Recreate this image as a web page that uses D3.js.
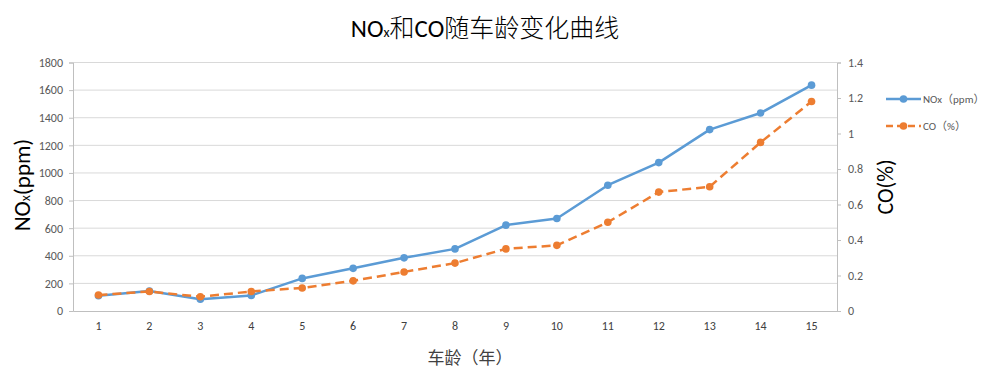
<!DOCTYPE html>
<html>
<head>
<meta charset="utf-8">
<script src="https://cdn.jsdelivr.net/npm/d3@7"></script>
<style>
  html, body { margin: 0; padding: 0; background: #fff; }
  svg text { font-family: Carlito, Lato, "Noto Sans CJK SC", sans-serif; }
</style>
</head>
<body>
<svg id="chart" width="985" height="370"></svg>
<script>
// Vehicle age (years)
const ages = [1, 2, 3, 4, 5, 6, 7, 8, 9, 10, 11, 12, 13, 14, 15];
// NOx emissions (ppm)
const noxValues = [110, 145, 85, 113, 236, 309, 385, 450, 622, 670, 911, 1075, 1314, 1434, 1636];
// CO emissions (%)
const coValues = [0.09, 0.11, 0.08, 0.11, 0.13, 0.17, 0.22, 0.27, 0.35, 0.37, 0.50, 0.67, 0.70, 0.95, 1.18];
// Axis ticks
const noxTicks = [0, 200, 400, 600, 800, 1000, 1200, 1400, 1600, 1800];
const coTicks = [0, 0.2, 0.4, 0.6, 0.8, 1, 1.2, 1.4];
const seriesNames = ["NOx（ppm）", "CO（%）"];

const svg = d3.select("#chart");
const plot = { left: 73, right: 837, top: 62.5, bottom: 311 };
const blue = "#5B9BD5", orange = "#ED7D31";
const labelColor = "#595959";

const x = d3.scaleBand().domain(ages).range([plot.left, plot.right]).padding(0);
const yL = d3.scaleLinear().domain([0, 1800]).range([plot.bottom, plot.top]);
const yR = d3.scaleLinear().domain([0, 1.4]).range([plot.bottom, plot.top]);
const cx = d => x(d) + x.bandwidth() / 2;

// Horizontal gridlines
svg.append("g").selectAll("line").data(noxTicks.slice(1)).join("line")
  .attr("x1", plot.left).attr("x2", plot.right)
  .attr("y1", d => yL(d)).attr("y2", d => yL(d))
  .attr("stroke", "#D9D9D9").attr("stroke-width", 1);

// Left axis
const gL = svg.append("g").attr("transform", `translate(${plot.left},0)`)
  .call(d3.axisLeft(yL).tickValues(noxTicks).tickSize(4).tickPadding(6).tickFormat(d3.format("d")));
gL.select(".domain").attr("stroke", "#BFBFBF");
gL.selectAll(".tick line").attr("stroke", "#BFBFBF");
gL.selectAll(".tick text").attr("fill", labelColor).style("font-size", "12px");

// Right axis
const gR = svg.append("g").attr("transform", `translate(${plot.right},0)`)
  .call(d3.axisRight(yR).tickValues(coTicks).tickSize(4).tickPadding(7).tickFormat(d => String(+d.toFixed(1))));
gR.select(".domain").attr("stroke", "#BFBFBF");
gR.selectAll(".tick line").attr("stroke", "#BFBFBF");
gR.selectAll(".tick text").attr("fill", labelColor).style("font-size", "12px");

// Bottom axis
const gB = svg.append("g").attr("transform", `translate(0,${plot.bottom})`)
  .call(d3.axisBottom(x).tickSize(0).tickPadding(10));
gB.select(".domain").attr("stroke", "#BFBFBF");
gB.selectAll(".tick text").attr("fill", "#404040").style("font-size", "12px");

// NOx line
svg.append("path").datum(noxValues)
  .attr("fill", "none").attr("stroke", blue).attr("stroke-width", 2.5)
  .attr("stroke-linejoin", "round")
  .attr("d", d3.line().x((d, i) => cx(ages[i])).y(d => yL(d)));
svg.append("g").selectAll("circle").data(noxValues).join("circle")
  .attr("cx", (d, i) => cx(ages[i])).attr("cy", d => yL(d)).attr("r", 3.8)
  .attr("fill", blue);

// CO line
svg.append("path").datum(coValues)
  .attr("fill", "none").attr("stroke", orange).attr("stroke-width", 2.5)
  .attr("stroke-dasharray", "9,5")
  .attr("d", d3.line().x((d, i) => cx(ages[i])).y(d => yR(d)));
svg.append("g").selectAll("circle").data(coValues).join("circle")
  .attr("cx", (d, i) => cx(ages[i])).attr("cy", d => yR(d)).attr("r", 3.8)
  .attr("fill", orange);

// Title
const title = svg.append("text").attr("x", 485).attr("y", 37)
  .attr("text-anchor", "middle").attr("fill", "#000").style("font-size", "25px")
  .style("font-weight", 300)
  .style("font-family", "Carlito, Lato, 'Noto Sans CJK SC', sans-serif");
title.append("tspan").text("NO");
title.append("tspan").text("x").style("font-size", "14px");
title.append("tspan").text("和CO随车龄变化曲线");

// Left axis title
const lt = svg.append("text").attr("transform", "translate(30,185) rotate(-90)")
  .attr("text-anchor", "middle").attr("fill", "#000").style("font-size", "23px");
lt.append("tspan").text("NO");
lt.append("tspan").text("x").style("font-size", "14px");
lt.append("tspan").text("(ppm)");

// Right axis title
svg.append("text").attr("transform", "translate(893,187) rotate(-90)")
  .attr("text-anchor", "middle").attr("fill", "#000").style("font-size", "22px")
  .text("CO(%)");

// X axis title
svg.append("text").attr("x", 470).attr("y", 364)
  .attr("text-anchor", "middle").attr("fill", "#404040").style("font-size", "17px")
  .style("font-family", "'Noto Sans CJK SC', sans-serif")
  .text("车龄（年）");

// Legend
const legend = svg.append("g");
const legendRows = [
  { name: seriesNames[0], color: blue, dash: null, y: 99 },
  { name: seriesNames[1], color: orange, dash: "7,4", y: 126 }
];
legendRows.forEach(r => {
  legend.append("line").attr("x1", 886).attr("x2", 921).attr("y1", r.y).attr("y2", r.y)
    .attr("stroke", r.color).attr("stroke-width", 2.5)
    .attr("stroke-dasharray", r.dash);
  legend.append("circle").attr("cx", 903.5).attr("cy", r.y).attr("r", 3.8).attr("fill", r.color);
  legend.append("text").attr("x", 923).attr("y", r.y + 4).attr("fill", labelColor)
    .style("font-size", "11px").text(r.name);
});
</script>
</body>
</html>
